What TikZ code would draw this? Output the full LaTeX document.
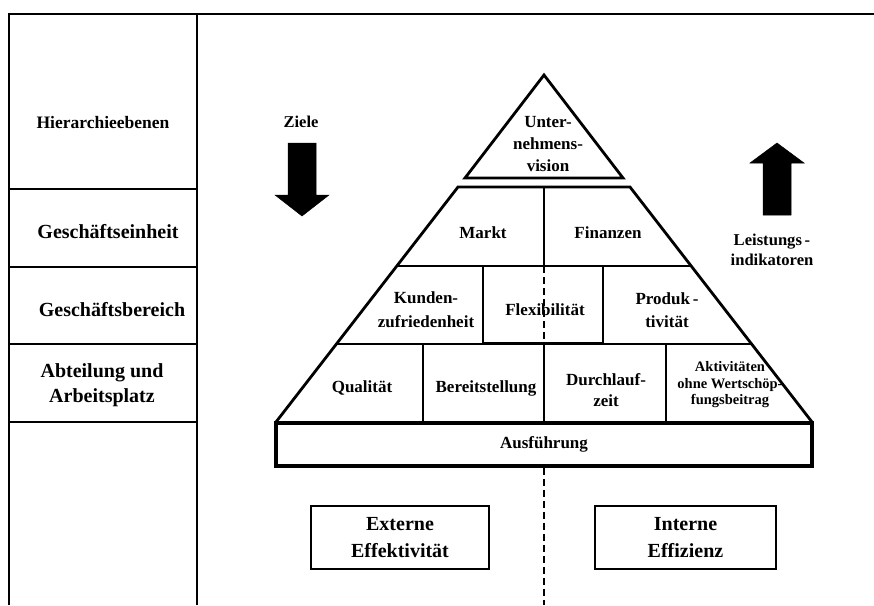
\documentclass[tikz,border=0pt]{standalone}
\usepackage{fontspec}
\setmainfont{Liberation Serif}
\usetikzlibrary{calc}
\newcommand{\fsz}[2]{\bfseries\fontsize{#1}{#2}\selectfont}
\begin{document}
\begin{tikzpicture}[x=1pt,y=-1pt,
  txt/.style={align=center, inner sep=0pt, font=\fsz{17}{23}},
  sidetxt/.style={align=center, inner sep=0pt, font=\fsz{20}{25}},
  frame/.style={line width=1.6pt},
  outline/.style={line width=2.8pt, line join=miter},
  cell/.style={line width=1.5pt},
  dashline/.style={line width=1.8pt, dash pattern=on 7pt off 4pt},
  bigarrow/.style={fill=black, draw=black, line width=0.5pt},
  effbox/.style={draw, line width=2pt, minimum width=178pt, minimum height=63pt,
                 align=center, inner sep=0pt, font=\fsz{20}{27}}]
\useasboundingbox (0,0) rectangle (874,605);

% left column with the hierarchy levels
\draw[frame] (874,14) -- (9,14) -- (9,605);
\draw[frame] (197,14) -- (197,605);
\foreach \yy in {189,267,344,422} \draw[frame] (9,\yy) -- (197,\yy);

\node[txt, font=\fsz{17.5}{22}] (h0) at (103,123) {Hierarchieebenen};
\node[sidetxt] (h1) at (108,232) {Geschäftseinheit};
\node[sidetxt] (h2) at (112,310) {Geschäftsbereich};
\node[sidetxt] (h3) at (102,385) {Abteilung und\\Arbeitsplatz};

% top triangle
\coordinate (apex) at (544,75);
\coordinate (tl) at (465,178);
\coordinate (tr) at (623,178);
\draw[outline] (apex) -- (tr) -- (tl) -- cycle;
\node[txt, font=\fsz{17}{22}] (vision) at (548,144) {Unter-\\nehmens-\\vision};

% pyramid body
\coordinate (TL) at (458,187);
\coordinate (TR) at (630,187);
\coordinate (BL) at (276,422);
\coordinate (BR) at (812,422);
\coordinate (L1) at ($(TL)!0.336!(BL)$);
\coordinate (R1) at ($(TR)!0.336!(BR)$);
\coordinate (L2) at ($(TL)!0.668!(BL)$);
\coordinate (R2) at ($(TR)!0.668!(BR)$);

\draw[cell] (L1) -- (R1);
\draw[cell] (L2) -- (R2);
\draw[cell] (544,187) -- (544,266);
\draw[line width=2pt] (483,266) rectangle (603,343);
\draw[dashline] (544,266) -- (544,343);
\foreach \xx in {423,544,666} \draw[cell] (\xx,344) -- (\xx,422);
\draw[outline] (BL) -- (TL) -- (TR) -- (BR);

\node[txt] (markt) at (483,233) {Markt};
\node[txt] (fin) at (608,233) {Finanzen};
\node[txt, font=\fsz{17}{24}] (kunden) at (426,310) {Kunden-\\zufriedenheit};
\node[txt] (flex) at (545,310) {Flexibilität};
\node[txt] (prod) at (667,310) {Produk\,-\\tivität};
\node[txt] (qual) at (362,388) {Qualität};
\node[txt] (bereit) at (486,388) {Bereitstellung};
\node[txt, font=\fsz{17}{21}] (durch) at (606,390) {Durchlauf-\\zeit};
\node[txt, font=\fsz{14.5}{16.5}] (akt) at (730,385) {Aktivitäten\\ohne Wertschöp-\\fungsbeitrag};

% execution level
\node[draw, line width=3.5pt, minimum width=536pt, minimum height=43pt,
      inner sep=0pt, font=\fsz{17}{22}] (ausf) at (544,444.5) {Ausführung};

% dividing line between external and internal view
\coordinate (bottom) at (544,605);
\draw[dashline] (ausf.south) -- (bottom);

\node[effbox] (ext) at (400,537.5) {Externe\\Effektivität};
\node[effbox, minimum width=181pt] (int) at (685.5,537.5) {Interne\\Effizienz};

% goals downwards, indicators upwards
\node[txt, font=\fsz{16.5}{20}] (ziele) at (301,122) {Ziele};
\draw[bigarrow] (288,143) -- (316,143) -- (316,195) -- (329,195) -- (302,216)
   -- (275,195) -- (288,195) -- cycle;
\draw[bigarrow] (777,143) -- (804,163) -- (791,163) -- (791,215) -- (763,215)
   -- (763,163) -- (750,163) -- cycle;
\node[txt, font=\fsz{16.6}{20}] (leist) at (772,250) {Leistungs\,-\\indikatoren};
\end{tikzpicture}
\end{document}
